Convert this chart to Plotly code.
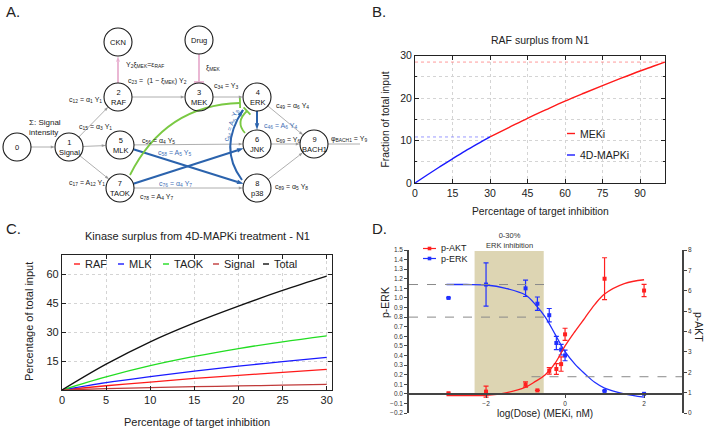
import math
import plotly.graph_objects as go

W, H = 707, 431
FONT = "Liberation Sans, Arial, sans-serif"

# ---------------- Panel B: RAF surplus from N1 ----------------
b_inhib_4d = [0, 5, 10, 15, 20, 25, 30]
b_raf_4d = [0, 1.95, 3.85, 5.7, 7.5, 9.2, 10.85]
b_inhib_meki = [30, 37.5, 45, 52.5, 60, 67.5, 75, 82.5, 90, 95, 100]
b_raf_meki = [10.85, 13.05, 15.25, 17.3, 19.3, 21.15, 22.95, 24.7, 26.4, 27.45, 28.5]
b_xticks = [0, 15, 30, 45, 60, 75, 90]
b_yticks = [0, 10, 20, 30]

# ---------------- Panel C: Kinase surplus ----------------
c_inhib = [0, 5, 10, 15, 20, 25, 30]
c_raf = [0, 2.2, 4.1, 6.0, 7.6, 9.1, 10.7]
c_mlk = [0, 3.8, 6.9, 9.8, 12.4, 14.7, 16.9]
c_taok = [0, 6.8, 12.6, 17.4, 21.5, 25.0, 28.1]
c_signal = [0, 0.7, 1.2, 1.7, 2.1, 2.5, 2.9]
c_total = [0, 13.4, 25.0, 34.8, 43.5, 51.6, 59.0]
c_names = ["RAF", "MLK", "TAOK", "Signal", "Total"]
c_colors = ["#ff1a1a", "#1a1aff", "#22dd22", "#c03a3a", "#111111"]
c_xticks = [0, 5, 10, 15, 20, 25, 30]
c_yticks = [15, 30, 45, 60]

# ---------------- Panel D: dose response ----------------
d_dose = [-2.95, -2, -1, -0.7, -0.4, -0.22, -0.1, 0, 1, 2]
d_perk = [1.0, 1.14, 1.10, 0.94, 0.82, 0.53, 0.46, 0.40, 0.03, 0.0]
d_perk_err = [0, 0.225, 0.085, 0.07, 0.07, 0.07, 0.055, 0.055, 0, 0]
d_pakt = [0.97, 1.05, 1.40, 1.11, 2.07, 2.16, 2.40, 3.86, 6.59, 6.01]
d_pakt_err = [0, 0.27, 0.13, 0, 0.16, 0.26, 0.35, 0.30, 1.03, 0.30]
d_fit_dose = [-3, -2.5, -2, -1.5, -1, -0.75, -0.5, -0.25, 0, 0.25, 0.5, 0.75, 1, 1.5, 2]
d_perk_fit = [1.14, 1.14, 1.135, 1.10, 1.03, 0.93, 0.80, 0.62, 0.44, 0.31, 0.21, 0.12, 0.06, 0.0, -0.035]
d_pakt_fit = [0.85, 0.85, 0.87, 0.99, 1.27, 1.55, 1.88, 2.45, 3.29, 4.0, 4.66, 5.32, 5.84, 6.35, 6.54]
d_erk_top = 1.14
d_erk_30 = 0.80
d_akt_ref = 1.78
d_shade = (-2.29, -0.54, 1.49)
d_xrange = [-3.95, 2.96]

# ---------------- Panel A: network ----------------
nodes = {
    "N0": (17, 147, "0"), "N1": (69, 147, "1<br>Signal"), "RAF": (118, 97, "2<br>RAF"),
    "MEK": (199, 97, "3<br>MEK"), "ERK": (257, 97, "4<br>ERK"), "MLK": (120, 145, "5<br>MLK"),
    "JNK": (257, 144, "6<br>JNK"), "TAOK": (120, 188, "7<br>TAOK"), "p38": (257, 188, "8<br>p38"),
    "BACH1": (314, 144, "9<br>BACH1"), "CKN": (118, 42, "CKN"), "Drug": (199, 40, "Drug"),
}
R = 14
gray_edges = [("N0", "N1"), ("N1", "RAF"), ("N1", "MLK"), ("N1", "TAOK"), ("RAF", "MEK"),
              ("MEK", "ERK"), ("MLK", "JNK"), ("TAOK", "p38"), ("ERK", "BACH1"),
              ("JNK", "BACH1"), ("p38", "BACH1")]
blue_edges = [("MLK", "p38"), ("TAOK", "JNK"), ("ERK", "JNK")]
edge_labels = [
    (27, 127, "Σ: Signal<br>intensity", "#222", 8),
    (67, 100, "c<sub>12</sub> = α<sub>1</sub> Y<sub>1</sub>", "#222", 7),
    (77, 127, "c<sub>15</sub> = α<sub>3</sub> Y<sub>1</sub>", "#222", 7),
    (67, 183, "c<sub>17</sub> = A<sub>12</sub> Y<sub>1</sub>", "#222", 7),
    (126, 81, "c<sub>23</sub> =  (1 − ξ<sub>MEK</sub>) Y<sub>2</sub>", "#222", 7),
    (124, 65, "Y<sub>2</sub>ξ<sub>MEK</sub>=ε<sub>RAF</sub>", "#222", 7),
    (204, 68, "ξ<sub>MEK</sub>", "#222", 7),
    (212, 86, "c<sub>34</sub> = Y<sub>3</sub>", "#222", 7),
    (274, 106, "c<sub>49</sub> = α<sub>6</sub> Y<sub>4</sub>", "#222", 7),
    (262, 126, "c<sub>46</sub> = A<sub>6</sub> Y<sub>4</sub>", "#3f6fb5", 7),
    (140, 141, "c<sub>56</sub> = α<sub>4</sub> Y<sub>5</sub>", "#222", 7),
    (156, 153, "c<sub>58</sub> = A<sub>5</sub> Y<sub>5</sub>", "#3f6fb5", 7),
    (157, 184, "c<sub>76</sub> = α<sub>4</sub> Y<sub>7</sub>", "#3f6fb5", 7),
    (138, 197, "c<sub>78</sub> = A<sub>4</sub> Y<sub>7</sub>", "#222", 7),
    (274, 140, "c<sub>69</sub> = Y<sub>6</sub>", "#222", 7),
    (273, 187, "c<sub>89</sub> = α<sub>5</sub> Y<sub>8</sub>", "#222", 7),
    (329, 139, "φ<sub>BACH1</sub> = Y<sub>9</sub>", "#222", 7),
]

GRAY = "#9a9a9a"
BLUE = "#2b63ad"
GREEN = "#7ac943"
PINK = "#e8b0d0"


def px(x):
    return x / W


def py(y):
    return 1 - y / H


fig = go.Figure()
shapes = []
ann = []


def text_ann(x, y, text, size, color="#222", xanchor="center", yanchor="middle", **kw):
    d = dict(x=x, y=y, text=text, showarrow=False, xanchor=xanchor, yanchor=yanchor,
             font=dict(size=size, color=color, family=FONT))
    d.setdefault("xref", "paper")
    d.setdefault("yref", "paper")
    d.update(kw)
    ann.append(d)


# ---------- Panel B traces ----------
fig.add_trace(go.Scatter(x=[0, b_inhib_meki[-1]], y=[b_raf_meki[-1]] * 2, mode="lines",
                         line=dict(color="#ff8080", width=0.8, dash="dot"), xaxis="x", yaxis="y",
                         showlegend=False, hoverinfo="skip"))
fig.add_trace(go.Scatter(x=[0, b_inhib_4d[-1]], y=[b_raf_4d[-1]] * 2, mode="lines",
                         line=dict(color="#8080ff", width=0.8, dash="dot"), xaxis="x", yaxis="y",
                         showlegend=False, hoverinfo="skip"))
fig.add_trace(go.Scatter(x=b_inhib_meki, y=b_raf_meki, mode="lines", name="MEKi",
                         line=dict(color="#ff1a1a", width=1.4, shape="spline"), xaxis="x", yaxis="y",
                         showlegend=False))
fig.add_trace(go.Scatter(x=b_inhib_4d, y=b_raf_4d, mode="lines", name="4D-MAPKi",
                         line=dict(color="#1a1aff", width=1.4, shape="spline"), xaxis="x", yaxis="y",
                         showlegend=False))

# ---------- Panel C traces ----------
for name, ys, col in zip(c_names, [c_raf, c_mlk, c_taok, c_signal, c_total], c_colors):
    fig.add_trace(go.Scatter(x=c_inhib, y=ys, mode="lines", name=name,
                             line=dict(color=col, width=1.3, shape="spline"),
                             xaxis="x2", yaxis="y2", showlegend=False))

# ---------- Panel D traces ----------
fig.add_trace(go.Scatter(x=d_fit_dose, y=d_perk_fit, mode="lines", line=dict(color="#2030ff", width=1.3, shape="spline"),
                         xaxis="x3", yaxis="y3", showlegend=False, hoverinfo="skip"))
fig.add_trace(go.Scatter(x=d_fit_dose, y=d_pakt_fit, mode="lines", line=dict(color="#ff2020", width=1.3, shape="spline"),
                         xaxis="x3", yaxis="y4", showlegend=False, hoverinfo="skip"))
fig.add_trace(go.Scatter(x=d_dose, y=d_perk, mode="markers", name="p-ERK",
                         marker=dict(color="#2030ff", size=4, symbol="square"),
                         error_y=dict(type="data", array=d_perk_err, color="#2030ff", thickness=1.2, width=2.5),
                         xaxis="x3", yaxis="y3", showlegend=False))
fig.add_trace(go.Scatter(x=d_dose, y=d_pakt, mode="markers", name="p-AKT",
                         marker=dict(color="#ff2020", size=4, symbol="square"),
                         error_y=dict(type="data", array=d_pakt_err, color="#ff2020", thickness=1.2, width=2.5),
                         xaxis="x3", yaxis="y4", showlegend=False))

# D shading and reference lines
shapes.append(dict(type="rect", xref="x3", yref="y3", x0=d_shade[0], x1=d_shade[1], y0=0, y1=d_shade[2],
                   fillcolor="#ddd5b3", line=dict(width=0), layer="below"))
shapes.append(dict(type="line", xref="x3", yref="y3", x0=d_xrange[0], x1=-0.41, y0=d_erk_top, y1=d_erk_top,
                   line=dict(color="#8a8a8a", width=1, dash="dash")))
shapes.append(dict(type="line", xref="x3", yref="y3", x0=d_xrange[0], x1=-0.48, y0=d_erk_30, y1=d_erk_30,
                   line=dict(color="#8a8a8a", width=1, dash="dash")))
shapes.append(dict(type="line", xref="x3", yref="y4", x0=-0.85, x1=d_xrange[1], y0=d_akt_ref, y1=d_akt_ref,
                   line=dict(color="#8a8a8a", width=1, dash="dash")))
text_ann((d_shade[0] + d_shade[1]) / 2, py(240), "0-30%<br>ERK inhibition", 7.5, "#333", xref="x3")

# axis titles (placed explicitly)
text_ann(px(699), py(327), "p-AKT", 10.5, textangle=90)
text_ann(px(385), py(303), "p-ERK", 10.5, textangle=-90)
text_ann(px(545), py(413), "log(Dose) (MEKi, nM)", 10)
text_ann(px(385), py(119.5), "Fraction of total input", 10.3, textangle=-90)
text_ann(px(540), py(211), "Percentage of target inhibition", 10.3)
text_ann(px(29), py(322), "Percentage of total input", 11, textangle=-90)
text_ann(px(197), py(422), "Percentage of target inhibition", 11)


# ---------- manual legends ----------
def legend_item(x0, x1, y, color, text, size, marker=False, width=1.4):
    shapes.append(dict(type="line", xref="paper", yref="paper", x0=px(x0), x1=px(x1), y0=py(y), y1=py(y),
                       line=dict(color=color, width=width)))
    if marker:
        xm = (x0 + x1) / 2
        shapes.append(dict(type="rect", xref="paper", yref="paper", x0=px(xm - 1.8), x1=px(xm + 1.8),
                           y0=py(y - 1.8), y1=py(y + 1.8), fillcolor=color, line=dict(width=0)))
    text_ann(px(x1 + 2.5), py(y), text, size, xanchor="left")


legend_item(567, 575, 133.5, "#ff1a1a", "MEKi", 10.5)
legend_item(567, 575, 155, "#1a1aff", "4D-MAPKi", 10.5)
for xl, name, col in zip([74, 118, 163, 213, 263], c_names, c_colors):
    legend_item(xl, xl + 6, 264, col, name, 11)
legend_item(423, 436, 248.5, "#ff2020", "p-AKT", 9, marker=True, width=1.2)
legend_item(423, 436, 258.5, "#2030ff", "p-ERK", 9, marker=True, width=1.2)

# ---------- Panel A network ----------
AX = dict(xref="x5", yref="y5")


def unit(dx, dy):
    d = math.hypot(dx, dy)
    return dx / d, dy / d


def arrow(x0, y0, x1, y1, color, width, size):
    fig.add_trace(go.Scatter(x=[x0, x1], y=[y0, y1], mode="lines+markers", xaxis="x5", yaxis="y5",
                             line=dict(color=color, width=width),
                             marker=dict(symbol="arrow", size=size, angleref="previous", color=color,
                                         line=dict(width=0)),
                             showlegend=False, hoverinfo="skip"))


def edge_points(a, b, pad_a=R, pad_b=R):
    xa, ya, _ = nodes[a]
    xb, yb, _ = nodes[b]
    ux, uy = unit(xb - xa, yb - ya)
    return xa + ux * pad_a, ya + uy * pad_a, xb - ux * pad_b, yb - uy * pad_b


def tbar(x, y, dx, dy, color, width, half=5):
    ux, uy = unit(dx, dy)
    nx, ny = -uy, ux
    shapes.append(dict(type="line", x0=x - nx * half, y0=y - ny * half, x1=x + nx * half, y1=y + ny * half,
                       line=dict(color=color, width=width), **AX))


def curve(p0, c, p2, color, width, end="arrow"):
    shapes.append(dict(type="path", path=f"M {p0[0]},{p0[1]} Q {c[0]},{c[1]} {p2[0]},{p2[1]}",
                       line=dict(color=color, width=width), **AX))
    dx, dy = p2[0] - c[0], p2[1] - c[1]
    if end == "arrow":
        ux, uy = unit(dx, dy)
        arrow(p2[0] - ux * 3, p2[1] - uy * 3, p2[0], p2[1], color, width, 7)
    else:
        tbar(p2[0], p2[1], dx, dy, color, width)


for a, b in gray_edges:
    x0, y0, x1, y1 = edge_points(a, b)
    arrow(x0, y0, x1, y1, GRAY, 0.8, 4.5)
xb9, yb9, _ = nodes["BACH1"]
shapes.append(dict(type="line", x0=xb9 + R, y0=yb9, x1=360, y1=yb9, line=dict(color=GRAY, width=0.8), **AX))

# pink: RAF -> CKN, Drug -| MEK
x0, y0, x1, y1 = edge_points("RAF", "CKN")
arrow(x0, y0, x1, y1, PINK, 1.8, 6)
x0, y0, x1, y1 = edge_points("Drug", "MEK", pad_b=R + 1)
shapes.append(dict(type="line", x0=x0, y0=y0, x1=x1, y1=y1, line=dict(color=PINK, width=1.8), **AX))
tbar(x1, y1, x1 - x0, y1 - y0, PINK, 1.8)

# blue straight arrows
for a, b in blue_edges:
    x0, y0, x1, y1 = edge_points(a, b)
    arrow(x0, y0, x1, y1, BLUE, 2.0, 7)

# curves
curve((130, 175), (165, 105), (240, 103), GREEN, 1.8, end="tbar")
curve((245, 133), (235, 122), (247, 111), GREEN, 1.8, end="tbar")
curve((242, 180), (218, 148), (243, 110), BLUE, 2.0, end="arrow")

for key, (cx, cy, label) in nodes.items():
    shapes.append(dict(type="circle", x0=cx - R, x1=cx + R, y0=cy - R, y1=cy + R,
                       line=dict(color="#1a1a1a", width=1.1), fillcolor="rgba(255,255,255,0)", **AX))
    text_ann(cx, cy, label, 7.5, "#111", **AX)

for x, y, text, col, size in edge_labels:
    text_ann(x, y, text, size, col, xanchor="left", align="left", **AX)
text_ann(231, 126, "c<sub>84</sub> = A<sub>5</sub> Y<sub>8</sub>", 7, "#3f6fb5", textangle=-72, **AX)

# panel letters and titles
for x, y, t in [(4, 12, "A."), (370, 12, "B."), (4, 228, "C."), (370, 228, "D.")]:
    text_ann(px(x), py(y), t, 15, xanchor="left")
text_ann(px(540), py(40), "RAF surplus from N1", 10.5)
text_ann(px(197), py(236), "Kinase surplus from 4D-MAPKi treatment - N1", 11)

frame = dict(showline=True, linecolor="#222", linewidth=1.1, mirror="ticks", ticks="inside", ticklen=4,
             tickcolor="#222", zeroline=False, showgrid=True, gridcolor="#d4d4d4", griddash="dot", gridwidth=0.8,
             automargin=False)
dax = dict(showline=True, linecolor="#444", linewidth=1.5, ticks="outside", ticklen=3, tickcolor="#444",
           zeroline=False, showgrid=False, tickfont=dict(size=6.5, color="#333", family=FONT), automargin=False)

fig.update_layout(
    width=W, height=H, margin=dict(l=0, r=0, t=0, b=0, pad=0, autoexpand=False), autosize=False,
    paper_bgcolor="white", plot_bgcolor="white",
    font=dict(family=FONT, color="#222"), showlegend=False,
    xaxis=dict(domain=[px(415), px(665)], range=[0, 100], tickvals=b_xticks, anchor="y",
               tickfont=dict(size=10.5), **frame),
    yaxis=dict(domain=[py(183), py(55.7)], range=[0, 30], tickvals=b_yticks, anchor="x",
               tickfont=dict(size=10.5),
               minor=dict(dtick=5, showgrid=True, gridcolor="#d4d4d4", griddash="dot", ticks="inside", ticklen=2),
               **frame),
    xaxis2=dict(domain=[px(62), px(332)], range=[0, 30.6], tickvals=c_xticks, anchor="y2",
                tickfont=dict(size=11), **frame),
    yaxis2=dict(domain=[py(390), py(255)], range=[0, 70], tickvals=c_yticks, anchor="x2",
                tickfont=dict(size=11), **frame),
    xaxis3=dict(domain=[px(409), px(682)], range=d_xrange, tickvals=[-2, 0, 2], anchor="free", position=py(394.3),
                **dax),
    yaxis3=dict(domain=[py(413), py(250)], range=[-0.2, 1.5], dtick=0.1, tickformat=".1f", anchor="x3", **dax),
    yaxis4=dict(domain=[py(413), py(250)], range=[0, 8], dtick=1, anchor="x3", overlaying="y3", side="right", **dax),
    xaxis5=dict(domain=[0, px(360)], range=[0, 360], visible=False, fixedrange=True, anchor="y5"),
    yaxis5=dict(domain=[py(218), 1], range=[218, 0], visible=False, fixedrange=True, anchor="x5"),
    shapes=shapes, annotations=ann,
)

fig.write_html("out.html", config={"displayModeBar": False},
               post_script="document.body.style.margin='0';document.body.style.overflow='hidden';")
